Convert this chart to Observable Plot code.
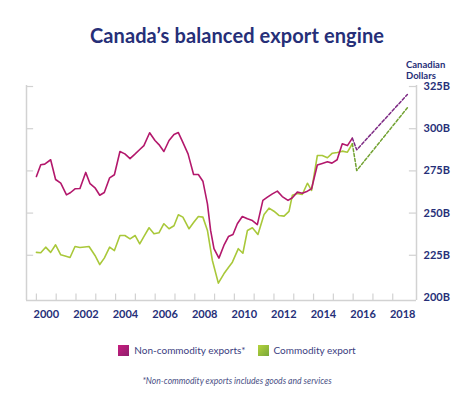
<!DOCTYPE html>
<html>
<head>
<meta charset="utf-8">
<script src="https://cdn.jsdelivr.net/npm/d3@7"></script>
<script src="https://cdn.jsdelivr.net/npm/@observablehq/plot@0.6"></script>
<style>
  html, body { margin: 0; padding: 0; background: #fff; }
  #wrap { position: relative; width: 474px; height: 393px; overflow: hidden; font-family: Lato, "Noto Sans", sans-serif; color: #262f78; }
  #title { position: absolute; left: 0; width: 474px; top: 23px; text-align: center; font-size: 20px; font-weight: 700; color: #262f78; letter-spacing: 0.1px; }
  #unit { position: absolute; left: 406px; top: 59px; font-size: 9.5px; font-weight: 700; line-height: 11px; color: #262f78; }
  #chart { position: absolute; left: 0; top: 60px; }
  #legend { position: absolute; top: 344px; left: 0; width: 474px; display: flex; justify-content: center; align-items: center; font-size: 10px; color: #3b4080; gap: 0; }
  .sw { width: 11px; height: 11px; display: inline-block; margin-right: 5px; }
  .item { display: flex; align-items: center; margin: 0 6px; }
  #caption { position: absolute; top: 376px; left: 0; width: 474px; text-align: center; font-size: 8.6px; font-style: italic; color: #4a4f85; }
</style>
</head>
<body>
<div id="wrap">
  <div id="title">Canada’s balanced export engine</div>
  <div id="unit">Canadian<br>Dollars</div>
  <div id="chart"></div>
  <div id="legend"></div>
  <div id="caption">*Non-commodity exports includes goods and services</div>
</div>
<script>
// ---- data ----
const seriesNames = ["Non-commodity exports*", "Commodity export"];

const nonCommodityDates = [1999.50,1999.72,1999.92,2000.22,2000.47,2000.73,2001.02,2001.23,2001.45,2001.70,2001.99,2002.21,2002.46,2002.70,2002.93,2003.20,2003.44,2003.72,2003.97,2004.23,2004.49,2004.72,2004.93,2005.22,2005.49,2005.69,2005.94,2006.20,2006.45,2006.67,2006.87,2007.16,2007.44,2007.68,2007.91,2008.14,2008.30,2008.47,2008.72,2008.97,2009.20,2009.43,2009.65,2009.90,2010.16,2010.41,2010.66,2010.94,2011.17,2011.42,2011.67,2011.92,2012.21,2012.43,2012.68,2012.93,2013.19,2013.40,2013.69,2013.94,2014.20,2014.43,2014.69,2014.95,2015.21,2015.46];
const nonCommodityValues = [271.7,278.6,279.0,281.6,269.9,267.7,260.8,262.2,264.4,264.6,274.1,267.4,265.0,260.6,262.2,270.9,272.7,286.5,285.1,282.3,285.1,287.7,290.0,297.6,293.0,290.6,286.5,293.0,296.6,297.7,292.6,285.1,272.9,272.9,268.9,255.5,239.7,228.9,223.3,230.8,236.1,237.3,243.7,248.0,246.6,245.6,243.2,257.5,259.4,261.4,263.0,259.8,257.5,259.1,262.4,261.8,263.0,264.4,278.5,279.4,280.4,279.6,281.6,291.1,290.0,294.4];

const commodityDates = [1999.50,1999.72,1999.97,2000.22,2000.47,2000.73,2000.95,2001.20,2001.45,2001.70,2001.94,2002.16,2002.46,2002.70,2002.93,2003.20,2003.44,2003.72,2003.97,2004.23,2004.49,2004.72,2004.95,2005.19,2005.44,2005.69,2005.94,2006.20,2006.45,2006.67,2006.90,2007.21,2007.44,2007.68,2007.91,2008.14,2008.39,2008.69,2008.97,2009.20,2009.40,2009.70,2009.93,2010.16,2010.41,2010.69,2011.00,2011.25,2011.50,2011.75,2012.01,2012.26,2012.43,2012.68,2012.93,2013.19,2013.40,2013.69,2013.94,2014.20,2014.45,2014.70,2014.95,2015.21,2015.46];
const commodityValues = [226.7,226.5,229.8,226.7,231.2,225.3,224.6,223.7,230.2,229.6,229.9,230.2,224.9,219.5,223.3,229.8,227.8,236.7,236.7,234.7,236.7,231.8,236.5,241.3,237.7,238.3,243.7,240.7,242.5,249.0,247.6,240.7,244.4,248.0,247.6,239.7,221.9,208.5,214.0,217.8,220.9,228.9,226.2,239.7,241.3,237.3,249.2,252.9,251.1,248.6,248.2,251.0,260.6,261.6,261.0,267.7,263.4,284.1,284.1,282.8,285.5,285.9,286.7,286.1,291.1];

// projections (dashed)
const nonCommodityForecastDates = [2015.46, 2015.68, 2018.24];
const nonCommodityForecastValues = [294.4, 287.5, 320.3];
const commodityForecastDates = [2015.46, 2015.68, 2018.24];
const commodityForecastValues = [291.1, 275.2, 312.4];

const yTicks = [200, 225, 250, 275, 300, 325];
const xLabels = [2000, 2002, 2004, 2006, 2008, 2010, 2012, 2014, 2016, 2018];
const xTickMarks = [1999.5,2000.5,2001.5,2002.5,2003.5,2004.5,2005.5,2006.5,2007.5,2008.5,2009.5,2010.5,2011.5,2012.5,2013.5,2014.5,2015.5,2016.5,2017.5];

// ---- build ----
const pink = "#b3186c", green = "#a9c83a";
const pinkDash = "#7d2a84", greenDash = "#72a232";
const grey = "#d2d2d2";
const navy = "#262f78";

const toRows = (dates, vals) => dates.map((d, i) => ({x: d, y: vals[i]}));
const nc = toRows(nonCommodityDates, nonCommodityValues);
const cm = toRows(commodityDates, commodityValues);
const ncF = toRows(nonCommodityForecastDates, nonCommodityForecastValues);
const cmF = toRows(commodityForecastDates, commodityForecastValues);

const xMin = 1999, xMax = 2018.7, yMin = 198.2, yMax = 325.6;

const chart = Plot.plot({
  width: 474,
  height: 280,
  marginLeft: 26,
  marginRight: 58,
  marginTop: 25,
  marginBottom: 40,
  x: {domain: [xMin, xMax], label: null},
  y: {domain: [yMin, yMax], label: null},
  style: {fontFamily: "Lato, 'Noto Sans', sans-serif", overflow: "visible"},
  marks: [
    // frame lines
    Plot.ruleX([xMin, xMax], {y1: yMin, y2: yMax, stroke: grey, strokeWidth: 1.5}),
    Plot.ruleY([yMin], {x1: xMin, x2: xMax, stroke: grey, strokeWidth: 1.5}),
    // inward ticks
    Plot.ruleY(yTicks.slice(1), {x1: xMin, x2: xMin + 0.36, stroke: grey, strokeWidth: 1.2}),
    Plot.ruleY(yTicks.slice(1), {x1: xMax - 0.36, x2: xMax, stroke: grey, strokeWidth: 1.2}),
    Plot.ruleX(xTickMarks, {y1: yMin, y2: yMin + 3.8, stroke: grey, strokeWidth: 1.2}),
    // axes
    Plot.axisY(yTicks, {anchor: "right", label: null, tickSize: 0, tickPadding: 7, tickFormat: d => d + "B", fontSize: 11, fontWeight: 700, fill: navy}),
    Plot.axisX(xLabels, {anchor: "bottom", label: null, tickSize: 0, tickPadding: 10, tickFormat: d => String(d), fontSize: 11, fontWeight: 700, fill: navy}),
    // lines
    Plot.line(cm, {x: "x", y: "y", stroke: green, strokeWidth: 1.6}),
    Plot.line(nc, {x: "x", y: "y", stroke: pink, strokeWidth: 1.6}),
    Plot.line(cmF, {x: "x", y: "y", stroke: greenDash, strokeWidth: 1.5, strokeDasharray: "3,2"}),
    Plot.line(ncF, {x: "x", y: "y", stroke: pinkDash, strokeWidth: 1.5, strokeDasharray: "3,2"})
  ]
});
document.getElementById("chart").appendChild(chart);

// legend
const legend = document.getElementById("legend");
const swatches = [
  "linear-gradient(135deg, #c81d7e, #8f1f6e)",
  "linear-gradient(135deg, #b5d33b, #78a73a)"
];
seriesNames.forEach((name, i) => {
  const item = document.createElement("div");
  item.className = "item";
  const sw = document.createElement("span");
  sw.className = "sw";
  sw.style.background = swatches[i];
  const t = document.createElement("span");
  t.textContent = name;
  item.appendChild(sw);
  item.appendChild(t);
  legend.appendChild(item);
});
</script>
</body>
</html>
